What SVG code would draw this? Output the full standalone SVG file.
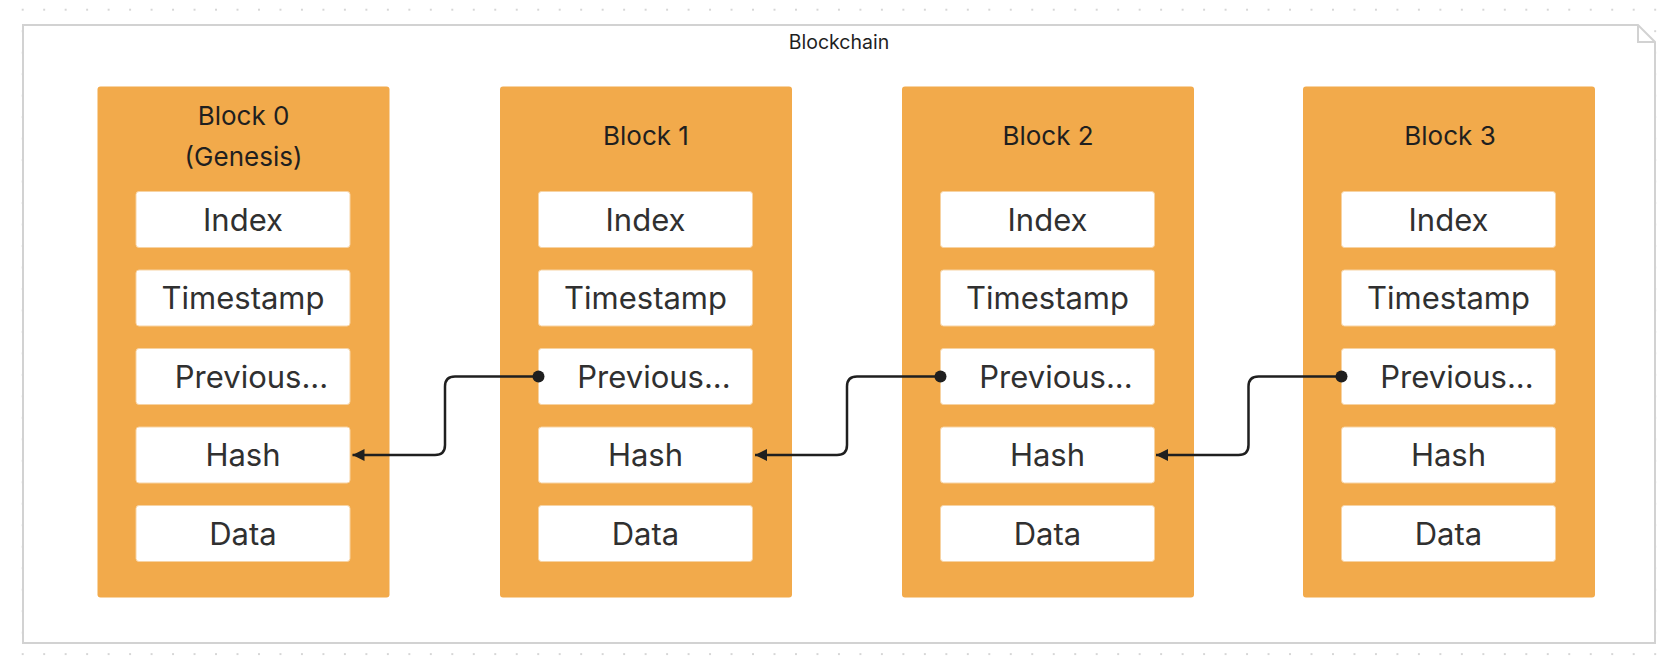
<svg xmlns="http://www.w3.org/2000/svg" width="1666" height="666" viewBox="0 0 1666 666">
  <defs>
    <pattern id="dots" patternUnits="userSpaceOnUse" x="11.96" y="-1.04" width="21.48" height="21.48">
      <circle cx="10.74" cy="10.74" r="0.9" fill="#c4c4c4"/>
    </pattern>
    <marker id="arrow" markerUnits="userSpaceOnUse" markerWidth="14" markerHeight="14" refX="12" refY="6" orient="auto">
      <path d="M0,0 L12,6 L0,12 Z" fill="#1f1f1f"/>
    </marker>
  </defs>
  <style>
    .block { fill: #F2AA4B; }
    .field { fill: #ffffff; stroke: #f7d3a3; stroke-width: 1; }
    .title { font-family: Inter, "Liberation Sans", sans-serif; font-size: 26px; fill: #1f1f1f; text-anchor: middle; }
    .label { font-family: Inter, "Liberation Sans", sans-serif; font-size: 31px; fill: #303030; text-anchor: middle; }
    .conn { fill: none; stroke: #1f1f1f; stroke-width: 2.5; }
    .dot { fill: #1f1f1f; }
  </style>

  <rect x="0" y="0" width="1666" height="666" fill="#ffffff"/>
  <rect x="12" y="0" width="1654" height="666" fill="url(#dots)"/>

  <g id="blockchain">
    <path d="M23,25 H1638 L1655,42 V643 H23 Z" fill="#ffffff" stroke="#d2d2d2" stroke-width="2"/>
    <path d="M1638,25 V42 H1655" fill="none" stroke="#d2d2d2" stroke-width="2"/>
    <text x="839" y="48.5" font-family="Inter, 'Liberation Sans', sans-serif" font-size="19.5" fill="#1f1f1f" text-anchor="middle">Blockchain</text>
  </g>

  <g id="block0">
    <rect class="block" x="97.5" y="86.5" width="292" height="511" rx="3"/>
    <text class="title" x="243.5" y="125">Block 0</text>
    <text class="title" x="243.5" y="166">(Genesis)</text>
    <rect class="field" x="136" y="191.5" width="214" height="56" rx="3"/>
    <text class="label" x="243" y="230.8">Index</text>
    <rect class="field" x="136" y="270" width="214" height="56" rx="3"/>
    <text class="label" x="243" y="309.3">Timestamp</text>
    <rect class="field" x="136" y="348.5" width="214" height="56" rx="3"/>
    <text class="label" x="251.5" y="387.8">Previous...</text>
    <rect class="field" x="136" y="427" width="214" height="56" rx="3"/>
    <text class="label" x="243" y="466.3">Hash</text>
    <rect class="field" x="136" y="505.5" width="214" height="56" rx="3"/>
    <text class="label" x="243" y="544.8">Data</text>
  </g>

  <g id="block1">
    <rect class="block" x="500" y="86.5" width="292" height="511" rx="3"/>
    <text class="title" x="646" y="145">Block 1</text>
    <rect class="field" x="538.5" y="191.5" width="214" height="56" rx="3"/>
    <text class="label" x="645.5" y="230.8">Index</text>
    <rect class="field" x="538.5" y="270" width="214" height="56" rx="3"/>
    <text class="label" x="645.5" y="309.3">Timestamp</text>
    <rect class="field" x="538.5" y="348.5" width="214" height="56" rx="3"/>
    <text class="label" x="654" y="387.8">Previous...</text>
    <rect class="field" x="538.5" y="427" width="214" height="56" rx="3"/>
    <text class="label" x="645.5" y="466.3">Hash</text>
    <rect class="field" x="538.5" y="505.5" width="214" height="56" rx="3"/>
    <text class="label" x="645.5" y="544.8">Data</text>
  </g>

  <g id="block2">
    <rect class="block" x="902" y="86.5" width="292" height="511" rx="3"/>
    <text class="title" x="1048" y="145">Block 2</text>
    <rect class="field" x="940.5" y="191.5" width="214" height="56" rx="3"/>
    <text class="label" x="1047.5" y="230.8">Index</text>
    <rect class="field" x="940.5" y="270" width="214" height="56" rx="3"/>
    <text class="label" x="1047.5" y="309.3">Timestamp</text>
    <rect class="field" x="940.5" y="348.5" width="214" height="56" rx="3"/>
    <text class="label" x="1056" y="387.8">Previous...</text>
    <rect class="field" x="940.5" y="427" width="214" height="56" rx="3"/>
    <text class="label" x="1047.5" y="466.3">Hash</text>
    <rect class="field" x="940.5" y="505.5" width="214" height="56" rx="3"/>
    <text class="label" x="1047.5" y="544.8">Data</text>
  </g>

  <g id="block3">
    <rect class="block" x="1303" y="86.5" width="292" height="511" rx="3"/>
    <text class="title" x="1450" y="145">Block 3</text>
    <rect class="field" x="1341.5" y="191.5" width="214" height="56" rx="3"/>
    <text class="label" x="1448.5" y="230.8">Index</text>
    <rect class="field" x="1341.5" y="270" width="214" height="56" rx="3"/>
    <text class="label" x="1448.5" y="309.3">Timestamp</text>
    <rect class="field" x="1341.5" y="348.5" width="214" height="56" rx="3"/>
    <text class="label" x="1457" y="387.8">Previous...</text>
    <rect class="field" x="1341.5" y="427" width="214" height="56" rx="3"/>
    <text class="label" x="1448.5" y="466.3">Hash</text>
    <rect class="field" x="1341.5" y="505.5" width="214" height="56" rx="3"/>
    <text class="label" x="1448.5" y="544.8">Data</text>
  </g>

  <g id="connectors">
    <path class="conn" d="M538.5,376.5 H455 Q445,376.5 445,386.5 V445 Q445,455 435,455 H352.5" marker-end="url(#arrow)"/>
    <circle class="dot" cx="538.5" cy="376.5" r="6"/>
    <path class="conn" d="M940.5,376.5 H857 Q847,376.5 847,386.5 V445 Q847,455 837,455 H755" marker-end="url(#arrow)"/>
    <circle class="dot" cx="940.5" cy="376.5" r="6"/>
    <path class="conn" d="M1341.5,376.5 H1258.5 Q1248.5,376.5 1248.5,386.5 V445 Q1248.5,455 1238.5,455 H1156" marker-end="url(#arrow)"/>
    <circle class="dot" cx="1341.5" cy="376.5" r="6"/>
  </g>
</svg>
